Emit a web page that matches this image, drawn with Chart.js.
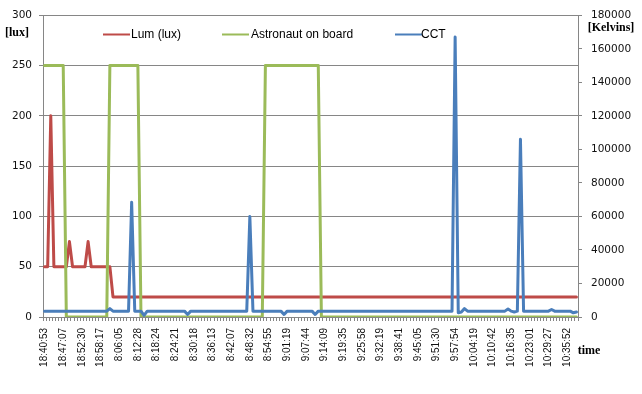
<!DOCTYPE html>
<html>
<head>
<meta charset="utf-8">
<script src="https://cdn.jsdelivr.net/npm/chart.js@4"></script>
<style>
html, body { margin: 0; padding: 0; background: #fff; }
</style>
</head>
<body>
<canvas id="chart" width="642" height="394"></canvas>
<script>
// tick labels shown on the time axis (one every 6 samples)
const timeLabels = [
    '18:40:53', '18:47:07', '18:52:30', '18:58:17', '8:06:05', '8:12:28', '8:18:24',
    '8:24:21', '8:30:18', '8:36:13', '8:42:07', '8:48:32', '8:54:55', '9:01:19',
    '9:07:44', '9:14:09', '9:19:35', '9:25:58', '9:32:19', '9:38:41', '9:45:05',
    '9:51:30', '9:57:54', '10:04:19', '10:10:42', '10:16:35', '10:23:01', '10:29:27',
    '10:35:52'
];
const labelEvery = 6;

// Lum (lux), left axis
const lum = [
    50, 50, 200, 50, 50, 50, 50, 50, 75, 50,
    50, 50, 50, 50, 75, 50, 50, 50, 50, 50,
    50, 50, 20, 20, 20, 20, 20, 20, 20, 20,
    20, 20, 20, 20, 20, 20, 20, 20, 20, 20,
    20, 20, 20, 20, 20, 20, 20, 20, 20, 20,
    20, 20, 20, 20, 20, 20, 20, 20, 20, 20,
    20, 20, 20, 20, 20, 20, 20, 20, 20, 20,
    20, 20, 20, 20, 20, 20, 20, 20, 20, 20,
    20, 20, 20, 20, 20, 20, 20, 20, 20, 20,
    20, 20, 20, 20, 20, 20, 20, 20, 20, 20,
    20, 20, 20, 20, 20, 20, 20, 20, 20, 20,
    20, 20, 20, 20, 20, 20, 20, 20, 20, 20,
    20, 20, 20, 20, 20, 20, 20, 20, 20, 20,
    20, 20, 20, 20, 20, 20, 20, 20, 20, 20,
    20, 20, 20, 20, 20, 20, 20, 20, 20, 20,
    20, 20, 20, 20, 20, 20, 20, 20, 20, 20,
    20, 20, 20, 20, 20, 20, 20, 20, 20, 20,
    20, 20
];

// Astronaut on board, left axis
const astronaut = [
    250, 250, 250, 250, 250, 250, 250, 0, 0, 0,
    0, 0, 0, 0, 0, 0, 0, 0, 0, 0,
    0, 250, 250, 250, 250, 250, 250, 250, 250, 250,
    250, 0, 0, 0, 0, 0, 0, 0, 0, 0,
    0, 0, 0, 0, 0, 0, 0, 0, 0, 0,
    0, 0, 0, 0, 0, 0, 0, 0, 0, 0,
    0, 0, 0, 0, 0, 0, 0, 0, 0, 0,
    0, 250, 250, 250, 250, 250, 250, 250, 250, 250,
    250, 250, 250, 250, 250, 250, 250, 250, 250, 0,
    0, 0, 0, 0, 0, 0, 0, 0, 0, 0,
    0, 0, 0, 0, 0, 0, 0, 0, 0, 0,
    0, 0, 0, 0, 0, 0, 0, 0, 0, 0,
    0, 0, 0, 0, 0, 0, 0, 0, 0, 0,
    0, 0, 0, 0, 0, 0, 0, 0, 0, 0,
    0, 0, 0, 0, 0, 0, 0, 0, 0, 0,
    0, 0, 0, 0, 0, 0, 0, 0, 0, 0,
    0, 0, 0, 0, 0, 0, 0, 0, 0, 0,
    0, 0
];

// CCT (Kelvins), right axis
const cct = [
    3500, 3500, 3500, 3500, 3500, 3500, 3500, 3500, 3500, 3500,
    3500, 3500, 3500, 3500, 3500, 3500, 3500, 3500, 3500, 3500,
    3500, 5000, 3500, 3500, 3500, 3500, 3500, 3500, 68500, 3500,
    3500, 3500, 1000, 3500, 3500, 3500, 3500, 3500, 3500, 3500,
    3500, 3500, 3500, 3500, 3500, 3500, 1500, 3500, 3500, 3500,
    3500, 3500, 3500, 3500, 3500, 3500, 3500, 3500, 3500, 3500,
    3500, 3500, 3500, 3500, 3500, 3500, 60000, 3500, 3500, 3500,
    3500, 3500, 3500, 3500, 3500, 3500, 3500, 1500, 3500, 3500,
    3500, 3500, 3500, 3500, 3500, 3500, 3500, 1500, 3500, 3500,
    3500, 3500, 3500, 3500, 3500, 3500, 3500, 3500, 3500, 3500,
    3500, 3500, 3500, 3500, 3500, 3500, 3500, 3500, 3500, 3500,
    3500, 3500, 3500, 3500, 3500, 3500, 3500, 3500, 3500, 3500,
    3500, 3500, 3500, 3500, 3500, 3500, 3500, 3500, 3500, 3500,
    3500, 3500, 167000, 2500, 3000, 5000, 3500, 3500, 3500, 3500,
    3500, 3500, 3500, 3500, 3500, 3500, 3500, 3500, 3500, 4800,
    3500, 3000, 3500, 106000, 3500, 3500, 3500, 3500, 3500, 3500,
    3500, 3500, 3500, 4500, 3500, 3500, 3500, 3500, 3500, 3500,
    2500, 3000
];

const gridColor = '#868686';

// legend + axis titles drawn inside the figure like the original
const overlay = {
    id: 'overlay',
    afterDraw(chart) {
        const ctx = chart.ctx;
        ctx.save();
        const items = [
            { i: 0, x: 103, tx: 131 },
            { i: 1, x: 222, tx: 251 },
            { i: 2, x: 395, tx: 421 }
        ];
        ctx.font = '12px "Liberation Sans", Arial, sans-serif';
        ctx.textBaseline = 'middle';
        items.forEach(it => {
            const ds = chart.data.datasets[it.i];
            ctx.strokeStyle = ds.borderColor;
            ctx.lineWidth = 2;
            ctx.beginPath();
            ctx.moveTo(it.x, 34.5);
            ctx.lineTo(it.x + 27, 34.5);
            ctx.stroke();
            ctx.fillStyle = '#000';
            ctx.textAlign = 'left';
            ctx.fillText(ds.label, it.tx, 35);
        });

        ctx.font = 'bold 12px "Liberation Serif", "Times New Roman", serif';
        ctx.fillStyle = '#000';
        ctx.textAlign = 'center';
        ctx.fillText('[lux]', 17, 33);
        ctx.fillText('[Kelvins]', 611, 28);
        ctx.fillText('time', 589, 351);
        ctx.restore();
    }
};

new Chart(document.getElementById('chart'), {
    type: 'line',
    data: {
        labels: lum.map((_, i) => i),
        datasets: [
            {
                label: 'Lum (lux)',
                data: lum,
                borderColor: '#BE4B48',
                yAxisID: 'y',
                order: 2
            },
            {
                label: 'Astronaut on board',
                data: astronaut,
                borderColor: '#9BBB59',
                yAxisID: 'y',
                order: 1
            },
            {
                label: 'CCT',
                data: cct,
                borderColor: '#4A7EBB',
                yAxisID: 'y1',
                order: 0
            }
        ]
    },
    options: {
        responsive: false,
        animation: false,
        layout: { padding: { top: 12, left: 0, right: 0, bottom: 0 } },
        elements: {
            point: { radius: 0, hoverRadius: 0 },
            line: { borderWidth: 3, tension: 0, borderJoinStyle: 'round', borderCapStyle: 'round' }
        },
        plugins: {
            legend: { display: false },
            tooltip: { enabled: false }
        },
        scales: {
            x: {
                offset: true,
                grid: {
                    offset: true,
                    drawOnChartArea: false,
                    color: gridColor,
                    tickLength: 4
                },
                border: { color: gridColor },
                ticks: {
                    autoSkip: false,
                    minRotation: 90,
                    maxRotation: 90,
                    padding: 7,
                    color: '#111',
                    font: { family: '"Liberation Sans", Arial, sans-serif', size: 10 },
                    callback: function(value, index) {
                        return index % labelEvery === 0 ? (timeLabels[index / labelEvery] || '') : '';
                    }
                },
                afterFit: scale => { scale.height = 77; }
            },
            y: {
                position: 'left',
                min: 0,
                max: 300,
                grid: { color: gridColor, tickLength: 4 },
                border: { color: gridColor },
                ticks: {
                    stepSize: 50,
                    padding: 7,
                    color: '#111',
                    font: { family: '"DejaVu Sans", sans-serif', size: 10.5 }
                },
                afterFit: scale => { scale.width = 43; }
            },
            y1: {
                position: 'right',
                min: 0,
                max: 180000,
                grid: { drawOnChartArea: false, color: gridColor, tickLength: 4 },
                border: { color: gridColor },
                ticks: {
                    stepSize: 20000,
                    padding: 9,
                    color: '#111',
                    font: { family: '"DejaVu Sans", sans-serif', size: 10.5 },
                    callback: value => String(value)
                },
                afterFit: scale => { scale.width = 64; }
            }
        }
    },
    plugins: [overlay]
});
</script>
</body>
</html>
